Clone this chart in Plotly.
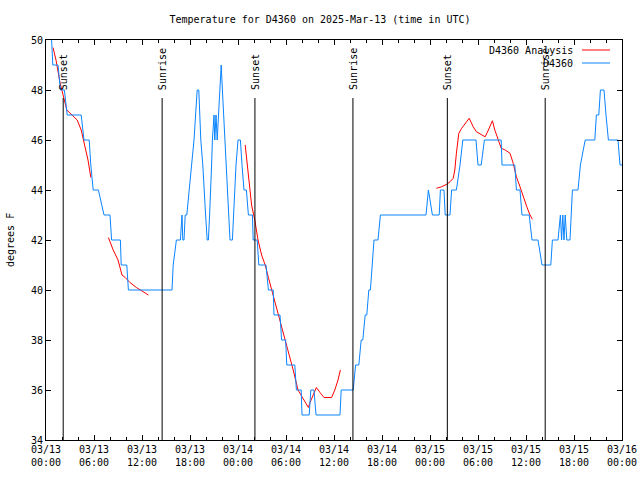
import pandas as pd
import plotly.graph_objects as go

BASE = pd.Timestamp("2025-03-13 00:00")

# Observed temperature (D4360): hours after 2025-03-13 00:00 UTC, degrees F
obs_hours = [0.7, 0.85, 1.5, 1.8, 2.3, 2.65, 4.4, 4.75, 5.4, 5.6, 5.9, 6.55, 7.25, 8.0, 8.2,
             9.3, 9.4, 10.1, 10.3, 15.75, 15.9, 16.3, 16.8, 17.0, 17.1, 17.25, 17.4, 17.6,
             17.9, 18.2, 18.5, 18.7, 18.9, 19.1, 19.2, 19.35, 19.6, 19.75, 19.95, 20.15,
             20.3, 20.45, 20.6, 20.7, 20.8, 21.0, 21.1, 21.25, 21.4, 21.55, 21.75, 21.9,
             22.05, 22.2, 22.4, 22.55, 22.7, 22.85, 23.0, 23.3, 23.45, 23.6, 23.75, 24.0,
             24.3, 24.5, 24.75, 25.05, 25.3, 25.8, 25.9, 26.4, 26.6, 27.5, 27.8, 28.4,
             28.5, 29.25, 29.45, 29.95, 30.1, 31.1, 31.3, 31.9, 32.0, 32.9, 33.1, 33.5,
             33.75, 36.75, 36.9, 38.4, 38.7, 39.1, 39.4, 39.6, 39.9, 40.1, 40.35, 40.55,
             40.8, 41.0, 41.5, 41.8, 47.5, 47.8, 48.3, 49.15, 49.3, 49.75, 49.9, 50.5,
             50.7, 51.3, 51.75, 52.1, 53.75, 54.0, 54.4, 54.8, 56.9, 57.0, 58.6, 58.8,
             59.25, 59.5, 60.4, 60.75, 61.5, 62.0, 63.1, 63.3, 64.0, 64.3, 64.45, 64.6,
             64.75, 64.9, 65.1, 65.5, 65.65, 65.8, 66.5, 66.8, 67.4, 68.6, 68.8, 69.1,
             69.3, 69.75, 70.0, 70.3, 71.5, 71.75, 72.0]
obs_temps = [50, 49, 49, 48, 48, 47, 47, 46, 46, 45, 44, 44, 43, 43, 42,
             42, 41, 41, 40, 40, 41, 42, 42, 43, 42, 42, 43, 43,
             44, 45, 46, 47, 48, 48, 47, 46, 45, 44, 43, 42,
             42, 43, 44, 45, 46, 47, 46, 47, 46, 47, 48, 49,
             48, 47, 46, 45, 44, 43, 42, 42, 43, 44, 45, 46,
             46, 45, 44, 44, 43, 43, 42, 42, 41, 41, 40, 40,
             39, 39, 38, 38, 37, 37, 36, 36, 35, 35, 36, 36,
             35, 35, 36, 36, 37, 37, 38, 38, 39, 39, 40, 40,
             41, 42, 42, 43, 43, 44, 43, 43, 44, 44, 43, 43,
             44, 44, 45, 46, 46, 45, 45, 46, 46, 45, 45, 44,
             44, 43, 43, 42, 42, 41, 41, 42, 42, 43, 42, 43,
             42, 43, 42, 42, 43, 44, 44, 45, 46, 46, 47, 47,
             48, 48, 47, 46, 46, 45, 45]

# Analysis (D4360 Analysis) segments
ana1_hours = [0.875, 1.25, 1.75, 2.25, 2.6, 3.25, 3.9, 4.4, 4.75, 5.25, 5.6]
ana1_temps = [49.7, 49.2, 48.3, 47.6, 47.2, 47.0, 46.8, 46.4, 45.9, 45.2, 44.5]
ana2_hours = [7.8, 8.4, 9.0, 9.5, 9.9, 10.5, 11.3, 12.2, 12.8]
ana2_temps = [42.1, 41.6, 41.2, 40.6, 40.5, 40.3, 40.1, 39.9, 39.8]
ana3_hours = [24.9, 25.16, 25.4, 25.7, 26.1, 26.5, 26.95, 27.4, 27.8, 28.4, 29.0, 29.7,
              30.3, 30.9, 31.5, 32.2, 32.8, 33.0, 33.5, 33.8, 34.25, 34.75, 35.7, 36.1,
              36.5, 36.8]
ana3_temps = [45.8, 45.1, 44.3, 43.4, 42.8, 42.0, 41.4, 41.0, 40.5, 39.8, 39.1, 38.2,
              37.6, 36.8, 36.0, 35.6, 35.3, 35.5, 35.9, 36.1, 35.9, 35.7, 35.7, 36.0,
              36.4, 36.8]
ana4_hours = [48.8, 49.46, 50.1, 50.5, 50.9, 51.1, 51.3, 51.6, 51.96, 52.5, 52.9, 53.4,
              53.8, 54.5, 54.9, 55.3, 55.8, 56.1, 56.5, 56.9, 57.4, 58.0, 58.4, 58.8,
              59.25, 59.7, 60.1, 60.5, 60.8]
ana4_temps = [44.07, 44.13, 44.23, 44.33, 44.47, 44.8, 45.47, 46.27, 46.47, 46.73, 46.87,
              46.53, 46.33, 46.2, 46.13, 46.4, 46.77, 46.4, 46.0, 45.67, 45.6, 45.47,
              45.07, 44.53, 44.13, 43.67, 43.33, 43.0, 42.83]

# Sun events (UTC)
sun_times = ["2025-03-13 02:09", "2025-03-13 14:31", "2025-03-14 02:07",
             "2025-03-14 14:22", "2025-03-15 02:10", "2025-03-15 14:24"]
sun_labels = ["Sunset", "Sunrise", "Sunset", "Sunrise", "Sunset", "Sunrise"]

FONT = "DejaVu Sans Mono"
RED = "#ff0000"
BLUE = "#0a84ff"


def to_time(hours):
    return [BASE + pd.Timedelta(hours=h) if h is not None else None for h in hours]


ana_hours, ana_temps = [], []
for hs, ts in [(ana1_hours, ana1_temps), (ana2_hours, ana2_temps),
               (ana3_hours, ana3_temps), (ana4_hours, ana4_temps)]:
    ana_hours += hs + [None]
    ana_temps += ts + [None]

fig = go.Figure()
fig.add_trace(go.Scatter(x=to_time(ana_hours), y=ana_temps, mode="lines",
                         name="D4360 Analysis", line=dict(color=RED, width=1),
                         connectgaps=False))
fig.add_trace(go.Scatter(x=to_time(obs_hours), y=obs_temps, mode="lines",
                         name="D4360", line=dict(color=BLUE, width=1)))

L, R, T, B = 46, 18, 40, 40
PW, PH = 640 - L - R, 480 - T - B


def px_x(px):
    return (px - L) / PW


def px_y(py):
    return (480 - B - py) / PH


for t, lab in zip(sun_times, sun_labels):
    fig.add_shape(type="line", xref="x", yref="paper", x0=t, x1=t,
                  y0=0, y1=px_y(98), line=dict(color="black", width=1))
    fig.add_annotation(x=t, xref="x", y=px_y(92), yref="paper", text=lab,
                       textangle=-90, showarrow=False, xanchor="center",
                       yanchor="bottom", font=dict(family=FONT, size=10, color="black"))

# gnuplot-style legend (text left, sample right)
leg = [("D4360 Analysis", RED, 50), ("D4360", BLUE, 63)]
for name, col, py in leg:
    fig.add_annotation(x=px_x(575), y=px_y(py), xref="paper", yref="paper", text=name,
                       showarrow=False, xanchor="right", yanchor="middle",
                       font=dict(family=FONT, size=10, color="black"))
    fig.add_shape(type="line", xref="paper", yref="paper", x0=px_x(582), x1=px_x(610),
                  y0=px_y(py), y1=px_y(py), line=dict(color=col, width=1))

fig.add_annotation(x=px_x(10), y=0.5, xref="paper", yref="paper", text="degrees F",
                   textangle=-90, showarrow=False, xanchor="center", yanchor="middle",
                   font=dict(family=FONT, size=10, color="black"))

fig.update_layout(
    width=640, height=480, autosize=False,
    margin=dict(l=L, r=R, t=T, b=B),
    paper_bgcolor="white", plot_bgcolor="white",
    showlegend=False,
    font=dict(family=FONT, size=10, color="black"),
    title=dict(text="Temperature for D4360 on 2025-Mar-13 (time in UTC)",
               x=0.5, xanchor="center", y=1 - 19 / 480, yanchor="middle",
               font=dict(family=FONT, size=10, color="black")),
)
fig.update_xaxes(
    type="date", range=["2025-03-13 00:00", "2025-03-16 00:00"], automargin=False,
    tick0="2025-03-13 00:00", dtick=6 * 3600 * 1000, tickformat="%m/%d<br>%H:%M",
    showgrid=False, zeroline=False, showline=True, linecolor="black", linewidth=1,
    mirror="allticks", ticks="inside", ticklen=5, tickcolor="black",
    minor=dict(dtick=2 * 3600 * 1000, ticks="inside", ticklen=3, tickcolor="black",
               showgrid=False),
    tickfont=dict(family=FONT, size=10, color="black"),
)
fig.update_yaxes(
    range=[34, 50], dtick=2, tick0=34, automargin=False,
    showgrid=False, zeroline=False, showline=True, linecolor="black", linewidth=1,
    mirror="allticks", ticks="inside", ticklen=5, tickcolor="black",
    tickfont=dict(family=FONT, size=10, color="black"),
)

fig.write_html("out.html", config={"displayModeBar": False},
               post_script="document.body.style.margin='0px';document.body.style.padding='0px';")
